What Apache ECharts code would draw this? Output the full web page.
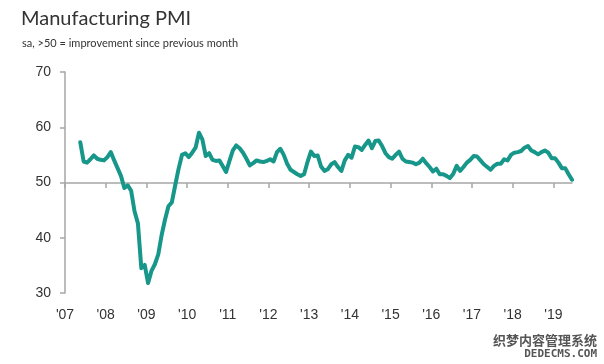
<!DOCTYPE html>
<html>
<head>
<meta charset="utf-8">
<script src="https://cdn.jsdelivr.net/npm/echarts@6/dist/echarts.min.js"></script>
<style>
html,body{margin:0;padding:0;background:#fff;}
#chart{width:604px;height:364px;}
</style>
</head>
<body>
<div id="chart"></div>
<script>
// Monthly PMI, May 2007 .. June 2019
const startYear = 2007;
const startMonth = 5;
const pmiValues = [
  57.3, 53.8, 53.6, 54.2, 54.9, 54.3, 54.1, 54.0,            // 2007 May-Dec
  54.6, 55.5, 54.0, 52.6, 51.2, 49.0, 49.5, 48.5, 44.8, 42.6, 34.5, 35.1, // 2008
  31.8, 34.0, 35.2, 37.0, 40.5, 43.3, 45.7, 46.4, 49.5, 52.5, 55.0, 55.3, // 2009
  54.6, 55.4, 56.3, 59.0, 57.8, 54.8, 55.3, 54.1, 53.9, 54.0, 53.0, 51.9, // 2010
  53.9, 55.8, 56.7, 56.2, 55.4, 54.3, 53.1, 53.5, 54.0, 53.8, 53.7, 53.9, // 2011
  54.2, 53.8, 55.5, 56.1, 55.0, 53.4, 52.3, 51.9, 51.5, 51.2, 51.5, 53.7, // 2012
  55.6, 54.8, 54.9, 52.9, 52.1, 52.4, 53.3, 53.7, 52.8, 52.1, 54.0, 55.0, // 2013
  54.5, 56.5, 56.4, 55.9, 56.8, 57.6, 56.2, 57.5, 57.6, 56.6, 55.3, 54.6, // 2014
  54.3, 55.0, 55.6, 54.3, 53.8, 53.7, 53.6, 53.3, 53.6, 54.3, 53.5, 52.8, // 2015
  52.0, 52.5, 51.5, 51.5, 51.2, 50.8, 51.6, 53.0, 52.1, 52.8, 53.6, 54.1, // 2016
  54.8, 54.7, 54.0, 53.3, 52.8, 52.3, 53.0, 53.4, 53.4, 54.2, 54.0, 55.0, // 2017
  55.4, 55.5, 55.7, 56.3, 56.6, 55.8, 55.5, 55.1, 55.5, 55.8, 55.4, 54.4, // 2018
  54.4, 53.6, 52.6, 52.6, 51.5, 50.5                                      // 2019 Jan-Jun
];
const yearTicks = [2007, 2008, 2009, 2010, 2011, 2012, 2013, 2014, 2015, 2016, 2017, 2018, 2019];
const yearLabels = ["'07", "'08", "'09", "'10", "'11", "'12", "'13", "'14", "'15", "'16", "'17", "'18", "'19"];
const yTicks = [30, 40, 50, 60, 70];

const titleText = 'Manufacturing PMI';
const subtitleText = 'sa, >50 = improvement since previous month';

// build [time, value] pairs: each month placed at its middle
const seriesData = pmiValues.map((v, i) => {
  const m = startMonth - 1 + i;
  return [startYear + (m + 0.5) / 12, v];
});
const xMax = seriesData[seriesData.length - 1][0];

const axisGray = '#a6a6a6';
const lineColor = '#17968a';
const labelFont = 'Arial';

const chart = echarts.init(document.getElementById('chart'), null, {renderer: 'canvas'});
chart.setOption({
  animation: false,
  backgroundColor: '#ffffff',
  grid: [
    {left: 65, right: 604 - 572, top: 72, bottom: 71},
    {left: 65, right: 604 - 572, top: 72, bottom: 181}
  ],
  xAxis: [
    {
      type: 'value', gridIndex: 0, min: 2007, max: xMax, interval: 1,
      axisLine: {show: false}, axisTick: {show: false}, splitLine: {show: false},
      axisLabel: {
        customValues: yearTicks,
        margin: 15,
        color: '#333',
        fontFamily: labelFont,
        fontSize: 14,
        formatter: (v) => {
          const k = yearTicks.indexOf(Math.round(v));
          return k >= 0 ? yearLabels[k] : '';
        }
      }
    },
    {
      type: 'value', gridIndex: 1, min: 2007, max: xMax, interval: 1,
      axisLine: {show: true, lineStyle: {color: axisGray, width: 1.5}},
      axisTick: {show: true, customValues: yearTicks, length: 5, lineStyle: {color: axisGray, width: 1.5}},
      axisLabel: {show: false},
      splitLine: {show: false}
    }
  ],
  yAxis: [
    {
      type: 'value', gridIndex: 0, min: yTicks[0], max: yTicks[yTicks.length - 1], interval: 10,
      axisLine: {show: true, lineStyle: {color: axisGray, width: 1.5}},
      axisTick: {show: true, length: 5, lineStyle: {color: axisGray, width: 1.5}},
      splitLine: {show: false},
      axisLabel: {
        margin: 14, color: '#333',
        fontFamily: labelFont, fontSize: 14
      }
    },
    {
      type: 'value', gridIndex: 1, min: 0, max: 1, show: false
    }
  ],
  series: [
    {
      type: 'line', xAxisIndex: 0, yAxisIndex: 0,
      data: seriesData, showSymbol: false, smooth: false,
      lineStyle: {color: lineColor, width: 4, join: 'round', cap: 'round'},
      z: 5
    }
  ],
  graphic: [
    {type: 'text', left: 21, top: 9, style: {text: titleText, fill: '#333', font: '20px Lato, "Open Sans", sans-serif'}},
    {type: 'text', left: 22, top: 38, style: {text: subtitleText, fill: '#333', font: '11px Lato, "Open Sans", sans-serif'}},
    {type: 'text', right: 7, top: 334, style: {text: '织梦内容管理系统', fill: '#555', font: 'bold 13px "Noto Sans CJK SC", sans-serif'}},
    {type: 'text', right: 7, top: 349, style: {text: 'DEDECMS.COM', fill: '#555', font: 'bold 11px "DejaVu Sans Mono", monospace'}}
  ]
});
</script>
</body>
</html>
